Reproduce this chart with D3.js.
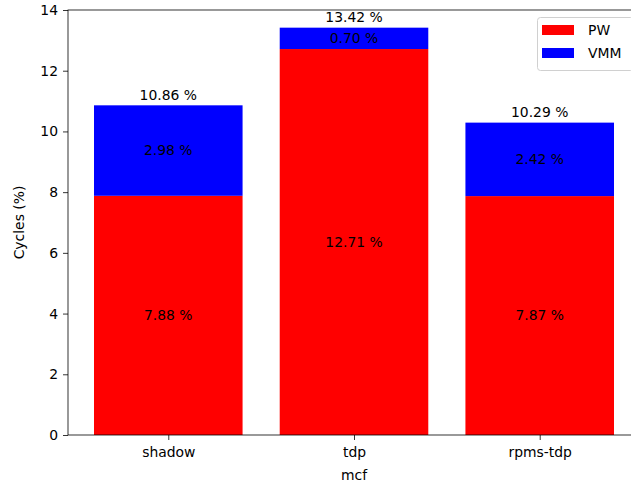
<!DOCTYPE html>
<html>
<head>
<meta charset="utf-8">
<script src="https://cdn.jsdelivr.net/npm/d3@7"></script>
<style>
  html, body { margin: 0; padding: 0; background: #fff; }
  svg { display: block; font-family: "DejaVu Sans", sans-serif; }
</style>
</head>
<body>
<svg id="chart" width="631" height="488"></svg>
<script>
// Stacked cycle breakdown for mcf
const categories = ["shadow", "tdp", "rpms-tdp"];
const pwValues = [7.88, 12.714, 7.87];
const vmmValues = [2.98, 0.704, 2.42];
const yTicks = [0, 2, 4, 6, 8, 10, 12, 14];
const seriesNames = ["PW", "VMM"];
const seriesColors = ["#ff0000", "#0000ff"];

const svg = d3.select("#chart");
const axL = 68, axR = 640, axT = 10, axB = 435;

// Numeric x scale: bar centres at 0,1,2 with width 0.8 and 5% margins
const x = d3.scaleLinear().domain([-0.54, 2.54]).range([axL, axR]);
const y = d3.scaleLinear().domain([0, 14]).range([axB, axT]);
const barW = 0.8;

const rows = categories.map((c, i) => ({ cat: c, i, pw: pwValues[i], vmm: vmmValues[i] }));
const stack = d3.stack().keys(["pw", "vmm"])(rows);

const plot = svg.append("g");
stack.forEach((layer, k) => {
  plot.selectAll(null).data(layer).enter().append("rect")
    .attr("x", d => x(d.data.i - barW / 2))
    .attr("width", d => x(d.data.i + barW / 2) - x(d.data.i - barW / 2))
    .attr("y", d => y(d[1]))
    .attr("height", d => y(d[0]) - y(d[1]))
    .attr("fill", seriesColors[k]);
});

// Segment labels centred in each segment
stack.forEach(layer => {
  plot.selectAll(null).data(layer).enter().append("text")
    .attr("x", d => x(d.data.i))
    .attr("y", d => (y(d[0]) + y(d[1])) / 2)
    .attr("dy", "0.35em")
    .attr("text-anchor", "middle")
    .attr("font-size", "13.9px")
    .attr("fill", "#000")
    .text(d => (d[1] - d[0]).toFixed(2) + " %");
});

// Totals above each bar
plot.selectAll(null).data(rows).enter().append("text")
  .attr("x", d => x(d.i))
  .attr("y", d => y(d.pw + d.vmm) - 5.5)
  .attr("text-anchor", "middle")
  .attr("font-size", "13.9px")
  .attr("fill", "#000")
  .text(d => (d.pw + d.vmm).toFixed(2) + " %");

// Axes
const yAxis = d3.axisLeft(y).tickValues(yTicks).tickSize(5).tickPadding(5).tickFormat(d3.format("d"));
const gy = svg.append("g").attr("transform", `translate(${axL},0)`).call(yAxis);
const xAxis = d3.axisBottom(x).tickValues(categories.map((c, i) => i)).tickSize(5).tickPadding(7)
  .tickFormat(i => categories[i]);
const gx = svg.append("g").attr("transform", `translate(0,${axB})`).call(xAxis);
[gx, gy].forEach(g => {
  g.select(".domain").remove();
  g.selectAll(".tick line").attr("stroke", "#000").attr("stroke-width", 0.8);
  g.selectAll(".tick text").attr("font-size", "13.9px").attr("fill", "#000")
    .attr("font-family", "DejaVu Sans, sans-serif");
});

// Frame
svg.append("rect").attr("x", axL).attr("y", axT)
  .attr("width", axR - axL).attr("height", axB - axT)
  .attr("fill", "none").attr("stroke", "#000").attr("stroke-width", 0.8);

// Axis titles
svg.append("text").attr("x", (axL + axR) / 2).attr("y", 480)
  .attr("text-anchor", "middle").attr("font-size", "13.9px").text("mcf");
svg.append("text").attr("transform", `translate(24,${(axT + axB) / 2}) rotate(-90)`)
  .attr("text-anchor", "middle").attr("font-size", "13.9px").text("Cycles (%)");

// Legend
const lg = svg.append("g").attr("transform", "translate(537,17)");
lg.append("rect").attr("x", 0.5).attr("y", 0.5).attr("width", 96).attr("height", 53)
  .attr("rx", 3).attr("fill", "#fff").attr("fill-opacity", 0.8)
  .attr("stroke", "#d0d0d0").attr("stroke-width", 1);
seriesNames.forEach((name, k) => {
  lg.append("rect").attr("x", 5).attr("y", 8 + k * 23).attr("width", 32).attr("height", 10)
    .attr("fill", seriesColors[k]);
  lg.append("text").attr("x", 51).attr("y", 13 + k * 23).attr("dy", "0.35em")
    .attr("font-size", "13.9px").text(name);
});
</script>
</body>
</html>
